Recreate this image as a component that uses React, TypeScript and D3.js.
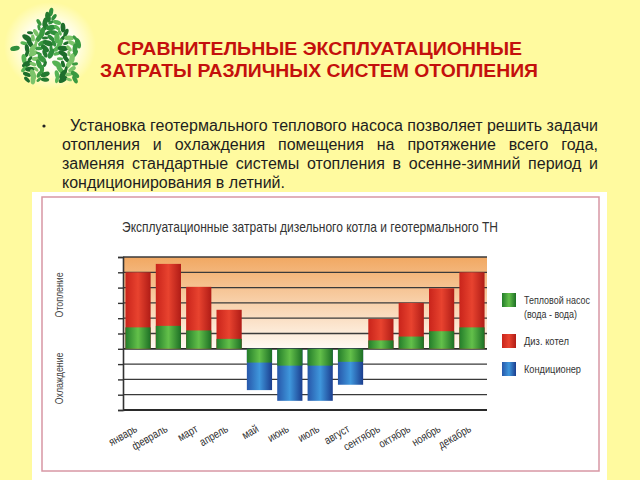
import React, { useEffect, useRef } from 'react';
import * as d3 from 'd3';

// chart data (units = gridline steps)
const months = [
  'январь', 'февраль', 'март', 'апрель', 'май', 'июнь',
  'июль', 'август', 'сентябрь', 'октябрь', 'ноябрь', 'декабрь',
];
const heatPumpHeating = [1.4, 1.5, 1.2, 0.65, 0, 0, 0, 0, 0.55, 0.8, 1.15, 1.4];
const dieselHeating = [5.0, 5.55, 4.05, 2.55, 0, 0, 0, 0, 1.95, 3.0, 3.95, 5.0];
const heatPumpCooling = [0, 0, 0, 0, -0.9, -1.1, -1.1, -0.85, 0, 0, 0, 0];
const conditionerCooling = [0, 0, 0, 0, -2.7, -3.4, -3.4, -2.35, 0, 0, 0, 0];
const yTicks = [-4, -3, -2, -1, 0, 1, 2, 3, 4, 5, 6];

const titleLines = ['СРАВНИТЕЛЬНЫЕ ЭКСПЛУАТАЦИОННЫЕ', 'ЗАТРАТЫ РАЗЛИЧНЫХ СИСТЕМ ОТОПЛЕНИЯ'];
const bodyLines = [
  'Установка геотермального теплового насоса позволяет решить задачи',
  'отопления и охлаждения помещения на протяжение всего года,',
  'заменяя стандартные системы отопления в осенне-зимний период и',
  'кондиционирования в летний.',
];
const legendItems = [
  { key: 'green', lines: ['Тепловой насос', '(вода - вода)'], widths: [66, 53] },
  { key: 'red', lines: ['Диз. котел'], widths: [45] },
  { key: 'blue', lines: ['Кондиционер'], widths: [57] },
];

const narrow = '"Liberation Sans Narrow", "Liberation Sans", Arial, sans-serif';
const sans = '"Liberation Sans", Arial, sans-serif';

const W = 640;
const H = 480;
const plot = { left: 123, right: 487, top: 257, bottom: 410 };

const App: React.FC = () => {
  const svgRef = useRef<SVGSVGElement | null>(null);

  const x = d3
    .scaleBand<string>()
    .domain(months)
    .range([plot.left, plot.right])
    .paddingInner(0.17)
    .paddingOuter(0.08);
  const y = d3.scaleLinear().domain([-4, 6]).range([plot.bottom, plot.top]);

  useEffect(() => {
    if (!svgRef.current) return;
    const svg = d3.select(svgRef.current);

    // left axis with short ticks, no labels
    const axisG = svg.select<SVGGElement>('g.y-axis');
    axisG.selectAll('*').remove();
    axisG
      .attr('transform', `translate(${plot.left},0)`)
      .call(d3.axisLeft(y).tickValues(yTicks).tickSize(5).tickFormat(() => ''));
    axisG.selectAll('line').attr('stroke', '#333').attr('stroke-width', 1.4);
    axisG.select('.domain').attr('stroke', '#333').attr('stroke-width', 1.6);

    // justify the body text lines
    svg.selectAll<SVGTextElement, unknown>('text.just').each(function () {
      const el = d3.select(this);
      el.attr('word-spacing', null);
      const x0 = +el.attr('x');
      const target = +el.attr('data-right') - x0;
      const words = (el.text() || '').split(' ').length;
      const len = this.getComputedTextLength();
      if (words > 1) el.attr('word-spacing', (target - len) / (words - 1));
    });
  }, []);

  // logo leaves: a grid of leaves clipped to a house outline
  const house: [number, number][] = [
    [50, 9], [85, 47], [78, 47], [78, 80], [22, 80], [22, 47], [14, 49],
  ];
  const leaves: { cx: number; cy: number; a: number; c: string; s: number }[] = [];
  const greens = ['#2f8f3c', '#56b354', '#1e6e2c', '#7cc46a', '#3a9a40', '#247a30'];
  let k = 0;
  for (let yy = 12; yy < 80; yy += 5.2) {
    for (let xx = 15; xx < 86; xx += 6) {
      const px = xx + (Math.round(yy) % 2) * 3;
      const inDoor = px > 45 && px < 57 && yy > 56;
      if (d3.polygonContains(house, [px, yy]) && !inDoor) {
        leaves.push({
          cx: px,
          cy: yy,
          a: (k * 47) % 180,
          c: greens[k % greens.length],
          s: 0.85 + ((k * 7) % 5) / 6,
        });
      }
      k++;
    }
  }

  const barW = x.bandwidth();

  return (
    <svg
      ref={svgRef}
      width={W}
      height={H}
      style={{ position: 'absolute', left: 0, top: 0, display: 'block' }}
    >
      <defs>
        <linearGradient id="gGreen" x1="0" x2="1" y1="0" y2="0">
          <stop offset="0" stopColor="#237d2a" />
          <stop offset="0.5" stopColor="#63c04a" />
          <stop offset="1" stopColor="#1c6f25" />
        </linearGradient>
        <linearGradient id="gRed" x1="0" x2="1" y1="0" y2="0">
          <stop offset="0" stopColor="#c9241b" />
          <stop offset="0.5" stopColor="#e8432f" />
          <stop offset="1" stopColor="#b01c16" />
        </linearGradient>
        <linearGradient id="gBlue" x1="0" x2="1" y1="0" y2="0">
          <stop offset="0" stopColor="#2757aa" />
          <stop offset="0.5" stopColor="#3f97dc" />
          <stop offset="1" stopColor="#1b3d8e" />
        </linearGradient>
        <linearGradient id="gHeat" x1="0" x2="0" y1="0" y2="1">
          <stop offset="0" stopColor="#f1a862" />
          <stop offset="1" stopColor="#fffaf4" />
        </linearGradient>
        <radialGradient id="gGlow" cx="0.5" cy="0.5" r="0.5">
          <stop offset="0.5" stopColor="#ffffff" stopOpacity="0.9" />
          <stop offset="1" stopColor="#ffffff" stopOpacity="0" />
        </radialGradient>
      </defs>

      {/* page */}
      <rect width={W} height={H} fill="#fffa9f" />

      {/* logo */}
      <ellipse cx={50} cy={46} rx={46} ry={44} fill="url(#gGlow)" />
      <g>
        {leaves.map((l, i) => (
          <ellipse
            key={i}
            cx={l.cx}
            cy={l.cy}
            rx={3.6 * l.s}
            ry={1.8 * l.s}
            fill={l.c}
            transform={`rotate(${l.a} ${l.cx} ${l.cy})`}
          />
        ))}
      </g>

      {/* title */}
      {titleLines.map((t, i) => (
        <text
          key={t}
          x={i === 0 ? 117 : 100}
          y={i === 0 ? 55 : 77}
          textLength={i === 0 ? 405 : 438}
          lengthAdjust="spacingAndGlyphs"
          fontFamily={sans}
          fontWeight="bold"
          fontSize={18.5}
          fill="#c4100c"
        >
          {t}
        </text>
      ))}

      {/* body text */}
      <circle cx={44} cy={126} r={1.6} fill="#222" />
      {bodyLines.map((t, i) => (
        <text
          key={t}
          className={i < 3 ? 'just' : undefined}
          x={i === 0 ? 70 : 62}
          data-right={598}
          y={131 + i * 19}
          fontFamily={sans}
          fontSize={16}
          fill="#1e1e1e"
        >
          {t}
        </text>
      ))}

      {/* chart panel */}
      <rect x={32} y={192} width={575} height={288} fill="#ffffff" />
      <rect x={42} y={197} width={557} height={274} fill="none" stroke="#d797a4" strokeWidth={1.5} />

      <text
        x={122}
        y={232}
        textLength={376}
        lengthAdjust="spacingAndGlyphs"
        fontFamily={narrow}
        fontSize={15}
        fill="#333"
      >
        Эксплуатационные затраты дизельного котла и геотермального ТН
      </text>

      {/* heating background */}
      <rect
        x={plot.left}
        y={y(6)}
        width={plot.right - plot.left}
        height={y(0) - y(6)}
        fill="url(#gHeat)"
      />

      {/* gridlines */}
      {yTicks.map((t) => (
        <line
          key={t}
          x1={plot.left}
          x2={plot.right}
          y1={y(t)}
          y2={y(t)}
          stroke={t === 0 || t === -4 ? '#2a2a2a' : '#3a3a3a'}
          strokeWidth={t === 0 || t === -4 ? 1.8 : 1.3}
        />
      ))}

      {/* bars */}
      {months.map((m, i) => {
        const bx = x(m) as number;
        return (
          <g key={m}>
            {dieselHeating[i] > 0 && (
              <rect x={bx} y={y(dieselHeating[i])} width={barW} height={y(0) - y(dieselHeating[i])} fill="url(#gRed)" />
            )}
            {heatPumpHeating[i] > 0 && (
              <rect x={bx} y={y(heatPumpHeating[i])} width={barW} height={y(0) - y(heatPumpHeating[i])} fill="url(#gGreen)" />
            )}
            {conditionerCooling[i] < 0 && (
              <rect x={bx} y={y(0)} width={barW} height={y(conditionerCooling[i]) - y(0)} fill="url(#gBlue)" />
            )}
            {heatPumpCooling[i] < 0 && (
              <rect x={bx} y={y(0)} width={barW} height={y(heatPumpCooling[i]) - y(0)} fill="url(#gGreen)" />
            )}
          </g>
        );
      })}

      <g className="y-axis" />

      {/* side labels */}
      <text
        transform={`translate(63,${(y(0) + y(6)) / 2 - 8}) rotate(-90) scale(0.8,1)`}
        textAnchor="middle"
        fontFamily={narrow}
        fontSize={11}
        fill="#444"
      >
        Отопление
      </text>
      <text
        transform={`translate(63,${(y(0) + y(-4)) / 2 - 1}) rotate(-90) scale(0.8,1)`}
        textAnchor="middle"
        fontFamily={narrow}
        fontSize={11}
        fill="#444"
      >
        Охлаждение
      </text>

      {/* month labels */}
      {months.map((m) => (
        <text
          key={m}
          transform={`translate(${(x(m) as number) + barW / 2},431) rotate(-30) scale(0.82,1)`}
          textAnchor="end"
          fontFamily={narrow}
          fontSize={11.5}
          fill="#333"
        >
          {m}
        </text>
      ))}

      {/* legend */}
      {legendItems.map((it, i) => {
        const top = [293, 334, 362][i];
        const fill = it.key === 'green' ? 'url(#gGreen)' : it.key === 'red' ? 'url(#gRed)' : 'url(#gBlue)';
        return (
          <g key={it.key}>
            <rect x={502} y={top} width={14} height={14} fill={fill} />
            {it.lines.map((ln, j) => (
              <text
                key={ln}
                x={524}
                y={top + 11 + j * 14}
                textLength={it.widths[j]}
                lengthAdjust="spacingAndGlyphs"
                fontFamily={narrow}
                fontSize={11}
                fill="#333"
              >
                {ln}
              </text>
            ))}
          </g>
        );
      })}
    </svg>
  );
};

export default App;
